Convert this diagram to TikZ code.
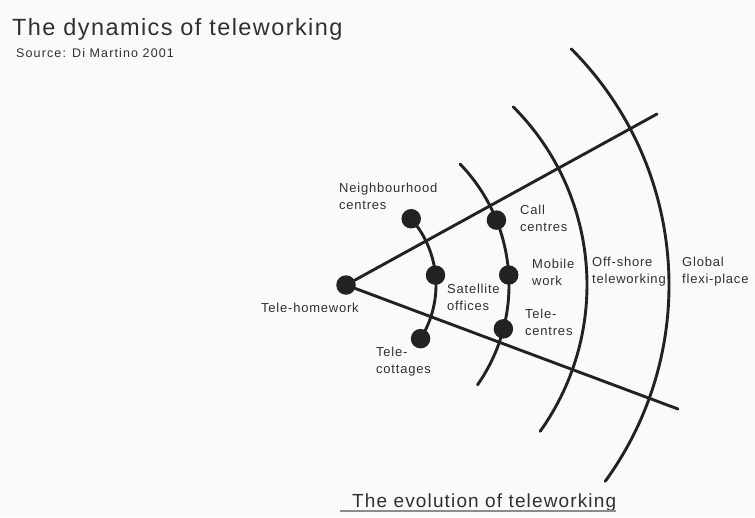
\documentclass[tikz,border=0pt]{standalone}
\usepackage{fontspec}
\setmainfont{Liberation Sans}
\newfontfamily\headfont{Liberation Sans}[LetterSpace=6]
\newfontfamily\srcfont{Liberation Sans}[LetterSpace=9]
\newfontfamily\spacedfont{Liberation Sans}[LetterSpace=6]
\definecolor{ink}{HTML}{222222}
\definecolor{textgray}{HTML}{303030}
\definecolor{rulegray}{HTML}{8C8C8C}
\definecolor{paper}{HTML}{FAFAFA}

\begin{document}
\begin{tikzpicture}[
        x=1pt, y=1pt,
        dot/.style={circle, fill=ink, inner sep=0pt, minimum size=19.5pt},
        spoke/.style={draw=ink, line width=2.9pt, line cap=round},
        ring/.style={draw=ink, line width=2.9pt, line cap=round},
        lbl/.style={font=\spacedfont\fontsize{13}{16.5}\selectfont, text=textgray, align=left, inner sep=0pt, anchor=north west},
        underl/.style={draw=rulegray, line width=1.2pt}
    ]
        \fill[paper] (0,0) rectangle (755,-517);
        \useasboundingbox (0,0) rectangle (755,-517);

        % headings
        \node[inner sep=0pt, anchor=north west, text=textgray, font=\headfont\fontsize{23.5}{27}\selectfont] (title) at (12,-18) {The dynamics of teleworking};
        \node[inner sep=0pt, anchor=north west, text=textgray, font=\srcfont\fontsize{12.5}{14}\selectfont] (source) at (16,-48) {Source: Di Martino 2001};

        % centre of the rings, apex of the wedge
        \coordinate (ctr) at (335,-285);
        \coordinate (upend) at (657,-114);
        \coordinate (lowend) at (678,-409);
        \node[dot] (home) at (346,-285) {};

        \draw[spoke] (home.center) -- (upend);
        \draw[spoke] (home.center) -- (lowend);

        % inner ring
        \node[dot] (nbh) at ([shift={(41:101pt)}]ctr) {};
        \node[dot] (sat) at ([shift={(5.6:101pt)}]ctr) {};
        \node[dot] (cott) at ([shift={(-32.1:101pt)}]ctr) {};
        \draw[ring] (nbh.center) arc[start angle=41, end angle=-32.1, radius=101pt];

        % outer rings
        \foreach \r/\a/\b in {174/44/-35, 252/45/-35.5, 334/45/-36}
            \draw[ring] ([shift={(\a:\r pt)}]ctr) arc[start angle=\a, end angle=\b, radius=\r pt];

        \node[dot] (call) at ([shift={(21.9:174pt)}]ctr) {};
        \node[dot] (mob) at ([shift={(3.3:174pt)}]ctr) {};
        \node[dot] (tcen) at ([shift={(-14.6:174pt)}]ctr) {};

        % labels
        \node[lbl] (homelbl) at (261,-303) {Tele-homework};
        \node[lbl] (nbhlbl) at (339,-183) {Neighbourhood\\centres};
        \node[lbl] (satlbl) at (447,-284) {Satellite\\offices};
        \node[lbl] (cottlbl) at (376,-347) {Tele-\\cottages};
        \node[lbl] (calllbl) at (520,-205) {Call\\centres};
        \node[lbl] (moblbl) at (532,-259) {Mobile\\work};
        \node[lbl] (tcenlbl) at (525,-309) {Tele-\\centres};
        \node[lbl] (offlbl) at (592,-257) {Off-shore\\teleworking};
        \node[lbl] (globlbl) at (682,-257) {Global\\flexi-place};

        % caption
        \node[inner sep=0pt, anchor=north west, text=textgray, font=\headfont\fontsize{19}{22}\selectfont] (caption) at (352,-494) {The evolution of teleworking};
        \draw[underl] ([xshift=-12pt, yshift=-3pt]caption.base west) -- ([yshift=-3pt]caption.base east);
    \end{tikzpicture}
\end{document}
